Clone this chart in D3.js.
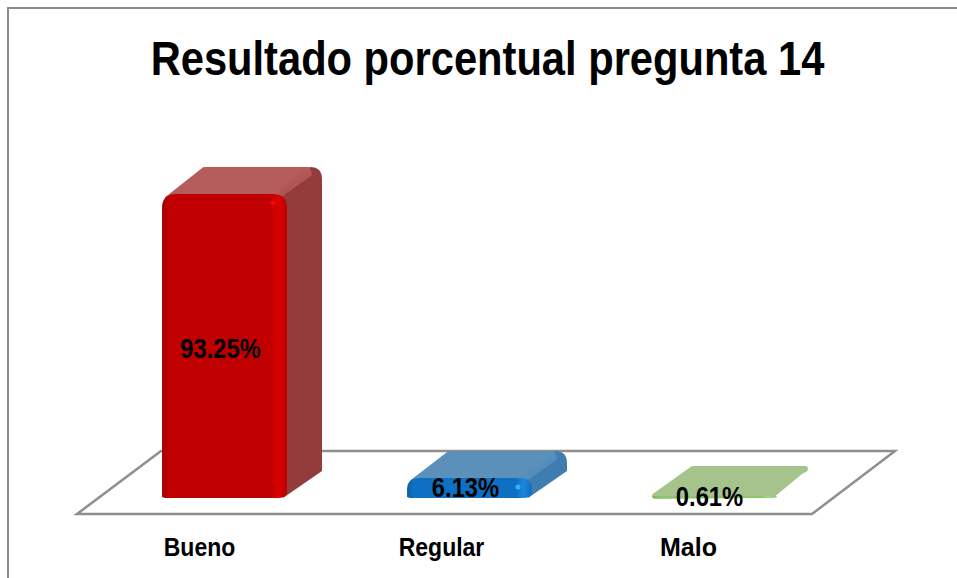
<!DOCTYPE html>
<html>
<head>
<meta charset="utf-8">
<script src="https://cdn.jsdelivr.net/npm/d3@7"></script>
<style>
html, body { margin: 0; padding: 0; background: #fff; }
svg { display: block; }
text { font-family: "Liberation Sans", sans-serif; font-weight: bold; fill: #000; }
</style>
</head>
<body>
<svg id="chart"></svg>
<script>
var categories = ["Bueno", "Regular", "Malo"];
var values = [93.25, 6.13, 0.61];
var valueLabels = ["93.25%", "6.13%", "0.61%"];
var frontColors = ["#c00000", "#0b6fc2", "#8fc668"];
var edgeColors = ["#d80202", "#1f86da", "#a6d884"];
var topColors = ["#b55c5c", "#5a90ba", "#a5c48c"];
var sideColors = ["#943b3b", "#3f7cb0", "#a5c48c"];
var titleText = "Resultado porcentual pregunta 14";

var width = 957, height = 578;
var svg = d3.select("#chart").attr("width", width).attr("height", height);

// Arial Narrow is not around, squeeze the regular face instead
function squeeze(sel, factor) {
    sel.each(function() {
        var len = this.getComputedTextLength();
        d3.select(this).attr("textLength", len * factor).attr("lengthAdjust", "spacingAndGlyphs");
    });
}

svg.append("path")
    .attr("d", "M8,578V8H957")
    .attr("fill", "none")
    .attr("stroke", "#8c8c8c")
    .attr("stroke-width", 2);

svg.append("text")
    .attr("x", 487.5)
    .attr("y", 75)
    .attr("text-anchor", "middle")
    .style("font-size", "48px")
    .text(titleText)
    .call(squeeze, 0.868);

// floor
var floorY = 514, floorDx = 84, floorDy = -63;
var depthDx = 35, depthDy = -27;
var x = d3.scaleBand().domain(categories).range([77, 812]).paddingInner(0.49).paddingOuter(0.245);
var y = d3.scaleLinear().domain([0, 100]).range([498, 172]);

svg.append("path")
    .attr("d", d3.line()([[77, floorY], [77 + floorDx, floorY + floorDy], [812 + floorDx - 1, floorY + floorDy], [812, floorY]]) + "Z")
    .attr("fill", "#fff")
    .attr("stroke", "#8f8f8f")
    .attr("stroke-width", 2.5);

var defs = svg.append("defs");
defs.append("filter").attr("id", "soft").append("feGaussianBlur").attr("stdDeviation", 0.7);
defs.append("filter").attr("id", "soft2").append("feGaussianBlur").attr("stdDeviation", 2);

categories.forEach(function(c, i) {
    var g1 = defs.append("linearGradient").attr("id", "h" + i);
    g1.append("stop").attr("offset", "0").attr("stop-color", d3.color(frontColors[i]).darker(0.4));
    g1.append("stop").attr("offset", "0.05").attr("stop-color", frontColors[i]);
    g1.append("stop").attr("offset", "0.87").attr("stop-color", frontColors[i]);
    g1.append("stop").attr("offset", "0.93").attr("stop-color", edgeColors[i]);
    g1.append("stop").attr("offset", "1").attr("stop-color", frontColors[i]);
});

var bars = svg.selectAll("g.bar")
    .data(categories)
    .enter().append("g")
    .attr("class", "bar")
    .attr("transform", "translate(25,0)");

bars.each(function(c, i) {
    var g = d3.select(this);
    var x0 = x(c), w = x.bandwidth(), x1 = x0 + w;
    var yBot = y(0);
    // the thin bar still keeps a few px of bevel
    var yTop = Math.min(y(values[i]), yBot - 1);
    var h = yBot - yTop;
    var r = Math.min(14, h * 0.6);
    var thin = h < 6;
    var lift = thin ? 3 : 0;

    if (!thin) {
        // right side face
        g.append("path")
            .attr("d", "M" + (x1 - 4) + "," + yBot
                + "L" + (x1 + depthDx) + "," + (yBot + depthDy)
                + "L" + (x1 + depthDx) + "," + (yTop + depthDy + 12)
                + "Q" + (x1 + depthDx) + "," + (yTop + depthDy) + " " + (x1 + depthDx - 12) + "," + (yTop + depthDy)
                + "L" + (x1 - 10) + "," + yTop + "Z")
            .attr("fill", sideColors[i]);
    }

    // top face, rounded by a stroke of the same colour
    var inset = thin ? 3 : 2;
    var back = yTop + depthDy - lift + inset;
    var pts = thin
        ? [[x0 + inset, yBot - 2], [x0 + 41, back], [x1 + depthDx - 7, back], [x1 + depthDx - 11, back + 2], [x1 - 5, yBot - 3]]
        : [[x0 + 5, yTop + r * 0.3], [x0 + depthDx + 7, back], [x1 + depthDx - 14, back], [x1 + depthDx - 12, back + 5], [x1 - 8, yTop + 2]];
    g.append("path")
        .attr("d", d3.line()(pts) + "Z")
        .attr("fill", topColors[i])
        .attr("stroke", topColors[i])
        .attr("stroke-width", inset * 2)
        .attr("stroke-linejoin", "round")
        .attr("filter", thin ? null : "url(#soft)");

    if (!thin) {
        // bevel along the back right corner
        g.append("path")
            .attr("d", "M" + (x1 - 7) + "," + (yTop + 1) + "L" + (x1 + depthDx - 10) + "," + (yTop + depthDy + 4))
            .attr("stroke", d3.color(sideColors[i]).brighter(0.3))
            .attr("stroke-width", 5)
            .attr("opacity", 0.4)
            .attr("filter", "url(#soft2)");
    }

    // front face
    g.append("path")
        .attr("d", "M" + x0 + "," + (yBot - 1)
            + "L" + x0 + "," + (yTop + r)
            + "Q" + x0 + "," + yTop + " " + (x0 + r) + "," + yTop
            + "L" + (x1 - r) + "," + yTop
            + "Q" + x1 + "," + yTop + " " + x1 + "," + (yTop + r)
            + "L" + x1 + "," + (yBot - Math.min(6, r))
            + "Q" + x1 + "," + yBot + " " + (x1 - 10) + "," + yBot
            + "L" + (x0 + 3) + "," + yBot + "Z")
        .attr("fill", "url(#h" + i + ")")
        .attr("filter", thin ? null : "url(#soft)");

    // shine along the top edge
    if (h > 12) {
        g.append("path")
            .attr("d", "M" + (x0 + 8) + "," + (yTop + 6) + "L" + (x1 - 8) + "," + (yTop + 6))
            .attr("stroke", edgeColors[i])
            .attr("stroke-width", 7)
            .attr("opacity", 0.9)
            .attr("filter", "url(#soft2)");
        g.append("circle")
            .attr("cx", x1 - 14)
            .attr("cy", yTop + 9)
            .attr("r", 2.5)
            .attr("fill", d3.color(edgeColors[i]).brighter(0.9))
            .attr("filter", "url(#soft)");
    }
});

// value labels
var labelY = [358, 497, 506];
var labelShift = [0, 0, -1];
svg.selectAll("text.val")
    .data(valueLabels)
    .enter().append("text")
    .attr("class", "val")
    .attr("x", function(d, i) { return x(categories[i]) + 25 + x.bandwidth() / 2 - 4 + labelShift[i]; })
    .attr("y", function(d, i) { return labelY[i]; })
    .attr("text-anchor", "middle")
    .style("font-size", "27px")
    .text(function(d) { return d; })
    .call(squeeze, 0.88);

// category axis
var axis = svg.append("g")
    .attr("transform", "translate(0,532)")
    .call(d3.axisBottom(x).tickSize(0).tickPadding(6));
axis.select(".domain").remove();
axis.selectAll("text")
    .style("font-size", "25px")
    .style("font-family", null)
    .attr("fill", "#000")
    .attr("dx", function(d) { return d === "Regular" ? -3 : d === "Malo" ? -1 : 0; })
    .each(function(d) { d3.select(this).call(squeeze, d === "Malo" ? 1 : 0.92); });
</script>
</body>
</html>
